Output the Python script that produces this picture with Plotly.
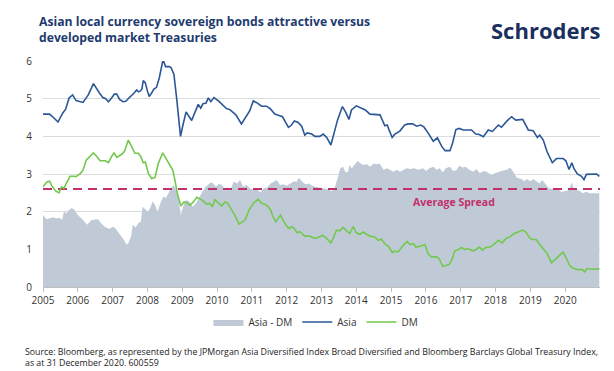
import plotly.graph_objects as go

# ---------------- data ----------------
asia_x = [2005.00, 2005.19, 2005.30, 2005.43, 2005.57, 2005.65, 2005.75, 2005.85, 2005.95, 2006.08,
          2006.15, 2006.30, 2006.45, 2006.62, 2006.72, 2006.80, 2006.88, 2006.97, 2007.05, 2007.12,
          2007.20, 2007.30, 2007.38, 2007.50, 2007.60, 2007.69, 2007.74, 2007.79, 2007.84, 2007.88,
          2007.94, 2008.00, 2008.05, 2008.12, 2008.18, 2008.26, 2008.34, 2008.44, 2008.47, 2008.52,
          2008.63, 2008.68, 2008.76, 2008.84, 2008.89, 2008.95, 2009.02, 2009.11, 2009.20, 2009.27,
          2009.37, 2009.46, 2009.53, 2009.60, 2009.68, 2009.75, 2009.82, 2009.91, 2010.04, 2010.13,
          2010.27, 2010.37, 2010.54, 2010.70, 2010.80, 2010.94, 2011.04, 2011.13, 2011.28, 2011.42,
          2011.52, 2011.66, 2011.76, 2011.88, 2012.05, 2012.14, 2012.22, 2012.33, 2012.43, 2012.52,
          2012.59, 2012.72, 2012.81, 2012.95, 2013.05, 2013.15, 2013.27, 2013.38, 2013.46, 2013.60,
          2013.69, 2013.79, 2013.86, 2014.00, 2014.14, 2014.26, 2014.39, 2014.53, 2014.68, 2014.82,
          2014.89, 2014.94, 2015.03, 2015.10, 2015.25, 2015.39, 2015.49, 2015.62, 2015.73, 2015.85,
          2015.94, 2016.07, 2016.21, 2016.33, 2016.45, 2016.55, 2016.69, 2016.76, 2016.86, 2016.96,
          2017.07, 2017.31, 2017.43, 2017.53, 2017.65, 2017.79, 2017.91, 2018.08, 2018.17, 2018.33,
          2018.46, 2018.58, 2018.78, 2018.94, 2019.08, 2019.20, 2019.27, 2019.37, 2019.48, 2019.63,
          2019.75, 2019.94, 2020.02, 2020.11, 2020.19, 2020.25, 2020.35, 2020.47, 2020.54, 2020.61,
          2020.80, 2020.90, 2020.98]
asia_y = [4.59, 4.59, 4.50, 4.38, 4.62, 4.72, 5.02, 5.10, 4.95, 4.93,
          4.90, 5.10, 5.40, 5.15, 5.03, 5.00, 4.92, 5.02, 5.12, 5.12,
          4.98, 4.92, 4.93, 5.05, 5.13, 5.23, 5.18, 5.20, 5.25, 5.48,
          5.42, 5.20, 5.06, 5.15, 5.25, 5.30, 5.55, 6.00, 5.98, 5.85,
          5.85, 5.82, 5.65, 5.00, 4.50, 4.00, 4.30, 4.65, 4.52, 4.42,
          4.65, 4.85, 4.75, 4.87, 4.88, 5.02, 4.92, 5.03, 4.94, 4.86,
          4.74, 4.71, 4.57, 4.33, 4.49, 4.68, 4.94, 4.90, 4.80, 4.80,
          4.74, 4.59, 4.56, 4.52, 4.24, 4.30, 4.41, 4.37, 4.27, 4.03,
          4.09, 4.06, 4.00, 4.00, 4.06, 3.97, 3.77, 4.12, 4.43, 4.79,
          4.65, 4.45, 4.70, 4.81, 4.74, 4.70, 4.59, 4.59, 4.57, 4.28,
          4.30, 4.17, 3.97, 4.05, 4.14, 4.30, 4.33, 4.33, 4.27, 4.30,
          4.25, 4.08, 3.87, 3.96, 3.74, 3.62, 3.62, 3.80, 4.18, 4.21,
          4.17, 4.17, 4.06, 4.05, 3.99, 4.17, 4.13, 4.30, 4.24, 4.41,
          4.52, 4.43, 4.45, 4.17, 4.15, 3.97, 4.03, 3.90, 3.59, 3.30,
          3.41, 3.41, 3.35, 3.12, 3.30, 3.15, 3.00, 2.94, 2.85, 2.99,
          2.99, 3.00, 2.94]

dm_x = [2005.00, 2005.11, 2005.19, 2005.27, 2005.36, 2005.46, 2005.53, 2005.60, 2005.67, 2005.78,
        2005.87, 2005.95, 2006.07, 2006.15, 2006.24, 2006.33, 2006.45, 2006.54, 2006.64, 2006.79,
        2006.88, 2006.98, 2007.04, 2007.12, 2007.27, 2007.34, 2007.45, 2007.55, 2007.64, 2007.74,
        2007.81, 2007.88, 2007.94, 2008.03, 2008.12, 2008.22, 2008.31, 2008.44, 2008.56, 2008.65,
        2008.73, 2008.79, 2008.86, 2008.96, 2009.05, 2009.13, 2009.22, 2009.32, 2009.42, 2009.51,
        2009.61, 2009.70, 2009.79, 2009.87, 2009.94, 2010.04, 2010.13, 2010.23, 2010.30, 2010.42,
        2010.51, 2010.63, 2010.73, 2010.80, 2010.92, 2011.04, 2011.18, 2011.28, 2011.38, 2011.47,
        2011.54, 2011.61, 2011.69, 2011.76, 2011.82, 2011.90, 2011.98, 2012.07, 2012.14, 2012.22,
        2012.30, 2012.38, 2012.52, 2012.66, 2012.81, 2012.91, 2013.03, 2013.15, 2013.27, 2013.34,
        2013.43, 2013.52, 2013.62, 2013.72, 2013.81, 2013.91, 2014.00, 2014.10, 2014.20, 2014.29,
        2014.39, 2014.53, 2014.63, 2014.72, 2014.82, 2014.94, 2015.03, 2015.10, 2015.20, 2015.35,
        2015.46, 2015.54, 2015.64, 2015.71, 2015.83, 2015.97, 2016.07, 2016.16, 2016.31, 2016.38,
        2016.48, 2016.57, 2016.67, 2016.74, 2016.83, 2016.93, 2017.02, 2017.11, 2017.21, 2017.34,
        2017.43, 2017.53, 2017.63, 2017.72, 2017.84, 2017.93, 2018.08, 2018.19, 2018.30, 2018.41,
        2018.54, 2018.65, 2018.78, 2018.87, 2018.99, 2019.08, 2019.17, 2019.25, 2019.37, 2019.48,
        2019.61, 2019.73, 2019.94, 2020.04, 2020.13, 2020.23, 2020.37, 2020.50, 2020.56, 2020.63,
        2020.76, 2020.98]
dm_y = [2.66, 2.79, 2.81, 2.66, 2.55, 2.50, 2.66, 2.62, 2.75, 2.94,
        2.94, 2.93, 3.01, 3.10, 3.37, 3.46, 3.56, 3.47, 3.35, 3.35,
        3.30, 3.48, 3.56, 3.44, 3.53, 3.60, 3.90, 3.72, 3.55, 3.55,
        3.46, 3.30, 3.32, 3.01, 2.88, 2.91, 3.28, 3.56, 3.37, 3.19,
        3.10, 2.84, 2.48, 2.15, 2.26, 2.24, 2.17, 2.26, 2.38, 2.34,
        2.28, 2.20, 2.22, 2.13, 2.32, 2.23, 2.15, 2.26, 2.23, 2.04,
        1.91, 1.67, 1.73, 1.77, 2.04, 2.22, 2.33, 2.22, 2.20, 2.13,
        2.04, 1.86, 1.73, 1.82, 1.91, 1.77, 1.64, 1.55, 1.60, 1.55,
        1.44, 1.47, 1.35, 1.35, 1.29, 1.32, 1.37, 1.29, 1.17, 1.30,
        1.51, 1.49, 1.58, 1.49, 1.42, 1.60, 1.44, 1.40, 1.46, 1.40,
        1.35, 1.33, 1.24, 1.27, 1.15, 1.06, 0.91, 0.95, 0.93, 1.11,
        1.21, 1.13, 1.15, 1.06, 1.08, 1.13, 0.87, 0.80, 0.80, 0.75,
        0.55, 0.57, 0.60, 0.71, 0.96, 0.99, 1.05, 0.99, 1.02, 0.96,
        0.99, 1.06, 0.98, 1.05, 1.06, 1.11, 1.24, 1.17, 1.29, 1.33,
        1.42, 1.46, 1.51, 1.46, 1.29, 1.26, 1.26, 1.15, 1.02, 0.89,
        0.64, 0.75, 0.93, 0.75, 0.57, 0.50, 0.46, 0.46, 0.40, 0.49,
        0.47, 0.48]

spread_x = [2005.00, 2005.10, 2005.29, 2005.40, 2005.48, 2005.55, 2005.60, 2005.67, 2005.74, 2005.81,
            2005.88, 2006.00, 2006.15, 2006.27, 2006.39, 2006.58, 2006.67, 2006.77, 2006.91, 2007.00,
            2007.08, 2007.20, 2007.33, 2007.40, 2007.45, 2007.53, 2007.58, 2007.66, 2007.74, 2007.81,
            2007.86, 2007.93, 2008.01, 2008.08, 2008.15, 2008.22, 2008.29, 2008.39, 2008.46, 2008.53,
            2008.60, 2008.68, 2008.75, 2008.82, 2008.89, 2008.96, 2009.04, 2009.11, 2009.20, 2009.30,
            2009.39, 2009.49, 2009.58, 2009.68, 2009.78, 2009.85, 2009.97, 2010.06, 2010.16, 2010.25,
            2010.29, 2010.37, 2010.48, 2010.58, 2010.66, 2010.75, 2010.85, 2010.94, 2011.04, 2011.13,
            2011.23, 2011.35, 2011.44, 2011.54, 2011.63, 2011.71, 2011.81, 2011.90, 2012.00, 2012.09,
            2012.21, 2012.28, 2012.35, 2012.45, 2012.54, 2012.64, 2012.73, 2012.83, 2012.98, 2013.06,
            2013.15, 2013.30, 2013.37, 2013.46, 2013.54, 2013.62, 2013.68, 2013.75, 2013.81, 2013.87,
            2013.97, 2014.04, 2014.12, 2014.21, 2014.31, 2014.40, 2014.50, 2014.59, 2014.67, 2014.78,
            2014.88, 2014.97, 2015.07, 2015.16, 2015.26, 2015.36, 2015.45, 2015.55, 2015.65, 2015.78,
            2015.92, 2016.00, 2016.10, 2016.21, 2016.31, 2016.40, 2016.48, 2016.57, 2016.69, 2016.78,
            2016.87, 2016.96, 2017.05, 2017.15, 2017.24, 2017.36, 2017.45, 2017.55, 2017.65, 2017.76,
            2017.88, 2017.98, 2018.08, 2018.17, 2018.32, 2018.42, 2018.52, 2018.61, 2018.74, 2018.83,
            2018.90, 2019.00, 2019.08, 2019.17, 2019.26, 2019.34, 2019.44, 2019.53, 2019.63, 2019.79,
            2019.89, 2019.98, 2020.05, 2020.13, 2020.19, 2020.24, 2020.32, 2020.42, 2020.51, 2020.60,
            2020.70, 2020.85, 2020.98]
spread_y = [1.91, 1.80, 1.85, 1.82, 1.84, 1.78, 2.00, 1.96, 2.04, 2.09,
            2.07, 1.91, 1.78, 1.65, 1.78, 1.80, 1.69, 1.60, 1.54, 1.60,
            1.56, 1.42, 1.24, 1.12, 1.16, 1.34, 1.65, 1.58, 1.70, 1.73,
            2.13, 2.07, 2.00, 2.10, 2.27, 2.18, 2.00, 2.27, 2.40, 2.36,
            2.49, 2.62, 2.71, 2.58, 2.35, 1.91, 2.18, 2.31, 2.27, 2.13,
            2.22, 2.40, 2.53, 2.66, 2.75, 2.78, 2.66, 2.75, 2.69, 2.55,
            2.66, 2.55, 2.80, 2.75, 2.84, 2.66, 2.71, 2.62, 2.58, 2.62,
            2.51, 2.62, 2.64, 2.75, 2.81, 2.84, 2.71, 2.73, 2.69, 2.75,
            2.81, 2.79, 2.90, 2.79, 2.73, 2.75, 2.69, 2.66, 2.64, 2.62,
            2.60, 2.55, 2.60, 2.88, 3.15, 3.19, 3.06, 3.04, 3.24, 3.15,
            3.28, 3.35, 3.28, 3.24, 3.26, 3.19, 3.28, 3.26, 3.28, 3.11,
            3.15, 3.11, 3.06, 3.11, 3.06, 3.11, 3.15, 3.13, 3.15, 3.11,
            3.15, 3.08, 3.15, 3.19, 3.11, 3.15, 3.04, 3.15, 3.19, 3.08,
            3.10, 3.22, 3.17, 3.19, 3.11, 3.06, 3.13, 3.02, 3.08, 3.05,
            2.97, 3.02, 3.06, 3.08, 3.11, 3.17, 3.04, 2.90, 2.87, 2.81,
            2.87, 2.81, 2.87, 2.80, 2.75, 2.84, 2.71, 2.62, 2.60, 2.62,
            2.51, 2.55, 2.55, 2.62, 2.78, 2.62, 2.58, 2.55, 2.49, 2.53,
            2.49, 2.49, 2.49]

average_spread = 2.6
year_ticks = list(range(2005, 2021))
year_labels = [str(y) for y in year_ticks]
y_ticks = [0, 1, 2, 3, 4, 5, 6]

# ---------------- styling ----------------
NAVY = "#1e3a6e"
ASIA_C = "#2b5797"
DM_C = "#72c94d"
AREA_C = "#bfcad6"
AVG_C = "#c2306b"
FONT = "Open Sans"

fig = go.Figure()
fig.add_trace(go.Scatter(x=spread_x, y=spread_y, name="Asia - DM", mode="lines",
                         line=dict(width=0, color=AREA_C), fill="tozeroy",
                         fillcolor=AREA_C, hoverinfo="skip"))
fig.add_trace(go.Scatter(x=[2005, 2021], y=[average_spread, average_spread], mode="lines",
                         line=dict(color=AVG_C, width=2, dash="9px,6px"), showlegend=False))
fig.add_trace(go.Scatter(x=asia_x, y=asia_y, name="Asia", mode="lines",
                         line=dict(color=ASIA_C, width=1.6)))
fig.add_trace(go.Scatter(x=dm_x, y=dm_y, name="DM", mode="lines",
                         line=dict(color=DM_C, width=1.6)))

fig.update_layout(
    width=614, height=371,
    margin=dict(l=43, r=14, t=61, b=84),
    paper_bgcolor="white", plot_bgcolor="white",
    font=dict(family=FONT, size=10, color="#333333"),
    showlegend=True,
    legend=dict(orientation="h", x=0.49, xanchor="center", y=-0.155, yanchor="middle",
                font=dict(size=10, color="#333333"), itemwidth=30, traceorder="normal"),
    xaxis=dict(range=[2005, 2021], tickvals=year_ticks, ticktext=year_labels,
               showgrid=False, showline=True, linecolor="#bfbfbf", linewidth=1,
               ticks="outside", ticklen=4, tickcolor="#bfbfbf", zeroline=False,
               tickfont=dict(size=10, color="#333333")),
    yaxis=dict(range=[0, 6], tickvals=y_ticks, showgrid=True, gridcolor="#dcdcdc",
               gridwidth=1, zeroline=False, showline=False, ticklabelstandoff=10,
               tickfont=dict(size=10, color="#333333")),
)

# Title (two lines, top-left)
fig.add_annotation(text="<b>Asian local currency sovereign bonds attractive versus<br>developed market Treasuries</b>",
                   x=(37 - 43) / 557, y=(287 - 11) / 226, xref="paper", yref="paper",
                   xanchor="left", yanchor="top", align="left", showarrow=False,
                   font=dict(family=FONT, size=12.2, color=NAVY))
fig.add_annotation(text="<b>Schroders</b>", x=(602 - 43) / 557, y=(287 - 30) / 226,
                   xref="paper", yref="paper", xanchor="right", yanchor="middle",
                   showarrow=False, font=dict(family=FONT, size=22, color="#1b2f5e"))
fig.add_annotation(text="<b>Average Spread</b>", x=2016.81, y=2.27, xref="x", yref="y",
                   showarrow=False, font=dict(family=FONT, size=10.5, color=AVG_C))
fig.add_annotation(text="Source: Bloomberg, as represented by the JPMorgan Asia Diversified Index Broad Diversified and Bloomberg Barclays Global Treasury Index,<br>as at 31 December 2020. 600559",
                   x=(23 - 43) / 557, y=(287 - 344) / 226, xref="paper", yref="paper",
                   xanchor="left", yanchor="top", align="left", showarrow=False,
                   font=dict(family=FONT, size=8.8, color="#222222"))

fig.write_html("out.html", config={"displayModeBar": False},
               post_script="document.body.style.margin='0';")
